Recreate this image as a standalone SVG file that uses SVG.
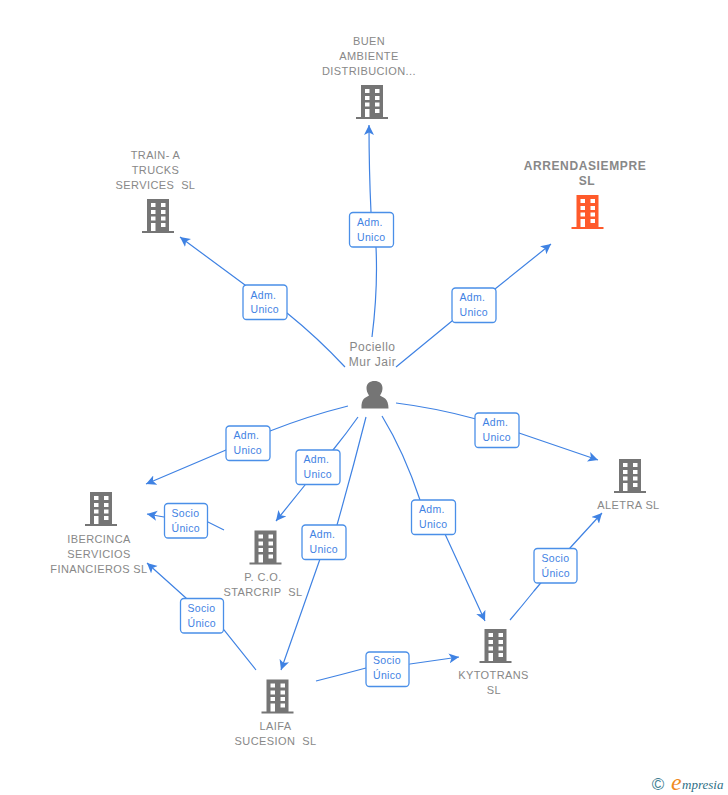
<svg xmlns="http://www.w3.org/2000/svg" width="728" height="795" viewBox="0 0 728 795">
<style>
text{font-family:"Liberation Sans",Arial,sans-serif}
.n{font-size:11px;fill:#888;text-anchor:middle;letter-spacing:.4px;white-space:pre}
.b{font-weight:bold;font-size:12px;letter-spacing:.62px}
.p{font-size:12px;letter-spacing:.5px}
.c{fill:none;stroke:#3f82e3;stroke-width:1.2;marker-end:url(#a)}
.l rect{fill:#fff;stroke:#4a8fe8;stroke-width:1.3}
.l text{font-size:10.5px;fill:#3f82e3;letter-spacing:.3px}
.g{fill:#757575}.o{fill:#ff5a2b}
</style>
<defs>
<marker id="a" markerUnits="userSpaceOnUse" markerWidth="14" markerHeight="12" refX="10" refY="5" orient="auto"><path d="M0,0 L10,5 L0,10 L2.5,5Z" fill="#3f82e3"/></marker>
<path id="i" fill-rule="evenodd" d="M5,0H27V32H32V34H0V32H5ZM9,4V8H13.500V4ZM19,4V8H23.500V4ZM9,11V15H13.500V11ZM19,11V15H23.500V11ZM9,17.500V21.500H13.500V17.500ZM19,17.500V21.500H23.500V17.500ZM9,24V32H13.500V24ZM19,24V28H23.500V24Z"/>
</defs>
<g id="connectors">
<path class="c" d="M372,337Q378,290 376,247L371,212Q369,170 369,125"/>
<path class="c" d="M345,367Q318,338 287,313L245,285L180,237"/>
<path class="c" d="M396,367L452,321L495,289L551,244"/>
<path class="c" d="M348,406Q308,416 270,431L226,450L146,484"/>
<path class="c" d="M358,417Q346,434 333,450L305,485L276,521"/>
<path class="c" d="M366,417Q352,472 337,525L320,559L281,670"/>
<path class="c" d="M382,416Q404,452 420,500L445,534L485,621"/>
<path class="c" d="M396,403Q436,408 476,419L519,433L598,460"/>
<path class="c" d="M224,530L208,522L164,517L147,514"/>
<path class="c" d="M256,670Q240,650 224,630L186,598L147,563"/>
<path class="c" d="M316,681Q340,675 366,668L410,664L459,657"/>
<path class="c" d="M510,620Q522,606 534,591L570,548L602,513"/>
</g>
<g id="edge-labels" class="l">
<g><rect x="349.500" y="212.500" width="44" height="34.500" rx="3.500"/><text x="357" y="226">Adm.</text><text x="357" y="241">Unico</text></g>
<g><rect x="243" y="285" width="44" height="34.500" rx="3.500"/><text x="250.500" y="299">Adm.</text><text x="250.500" y="313">Unico</text></g>
<g><rect x="452" y="288" width="44" height="34.500" rx="3.500"/><text x="459.500" y="301">Adm.</text><text x="459.500" y="316">Unico</text></g>
<g><rect x="226" y="426" width="44" height="34.500" rx="3.500"/><text x="233.500" y="439">Adm.</text><text x="233.500" y="454">Unico</text></g>
<g><rect x="296" y="450" width="44" height="34.500" rx="3.500"/><text x="303.500" y="463">Adm.</text><text x="303.500" y="478">Unico</text></g>
<g><rect x="302" y="525" width="44" height="34.500" rx="3.500"/><text x="309.500" y="538">Adm.</text><text x="309.500" y="553">Unico</text></g>
<g><rect x="411.500" y="500" width="44" height="34.500" rx="3.500"/><text x="419" y="513">Adm.</text><text x="419" y="528">Unico</text></g>
<g><rect x="475" y="413" width="44" height="34.500" rx="3.500"/><text x="482.500" y="426">Adm.</text><text x="482.500" y="441">Unico</text></g>
<g><rect x="164.500" y="503.500" width="43" height="34.500" rx="3.500"/><text x="171.500" y="517">Socio</text><text x="171.500" y="532">Único</text></g>
<g><rect x="180.500" y="598.500" width="43" height="34.500" rx="3.500"/><text x="187.500" y="612">Socio</text><text x="187.500" y="627">Único</text></g>
<g><rect x="366" y="652" width="43" height="34.500" rx="3.500"/><text x="373" y="664">Socio</text><text x="373" y="679">Único</text></g>
<g><rect x="534" y="548.500" width="43" height="34.500" rx="3.500"/><text x="541.500" y="562">Socio</text><text x="541.500" y="577">Único</text></g>
</g>
<g id="buen"><text class="n" x="369" y="45">BUEN</text><text class="n" x="369" y="60">AMBIENTE</text><text class="n" x="369" y="75">DISTRIBUCION...</text><use href="#i" class="g" x="356" y="85"/></g>
<g id="train"><text class="n" x="155.500" y="159">TRAIN- A</text><text class="n" x="155.500" y="174">TRUCKS</text><text class="n" x="155.500" y="189">SERVICES  SL</text><use href="#i" class="g" x="142" y="199"/></g>
<g id="arrendasiempre"><text class="n b" x="585" y="170">ARRENDASIEMPRE</text><text class="n b" x="587" y="185">SL</text><use href="#i" class="o" x="571.500" y="195"/></g>
<g id="pociello"><text class="n p" x="372.500" y="351">Pociello</text><text class="n p" x="372.500" y="366">Mur Jair</text>
<path class="g" d="M361.500,408.500C361,398 366,397.500 369,395.500C367,392.500 366.500,390 366.500,388C366.500,383.500 370,381 374.500,381C379,381 382.500,383.500 382.500,388C382.500,390 382,392.500 380,395.500C383,397.500 388.500,398 388.500,408.500Z"/></g>
<g id="aletra"><text class="n" x="628.500" y="509">ALETRA SL</text><use href="#i" class="g" x="614" y="459"/></g>
<g id="ibercinca"><text class="n" x="99" y="543">IBERCINCA</text><text class="n" x="99" y="558">SERVICIOS</text><text class="n" x="99" y="573">FINANCIEROS SL</text><use href="#i" class="g" x="85" y="492"/></g>
<g id="pco"><text class="n" x="263" y="581">P. C.O.</text><text class="n" x="263" y="596">STARCRIP  SL</text><use href="#i" class="g" x="249.500" y="530.500"/></g>
<g id="kytotrans"><text class="n" x="493.500" y="679">KYTOTRANS</text><text class="n" x="494" y="694">SL</text><use href="#i" class="g" x="479.500" y="629"/></g>
<g id="laifa"><text class="n" x="275.500" y="730">LAIFA</text><text class="n" x="275.500" y="745">SUCESION  SL</text><use href="#i" class="g" x="261.500" y="679.500"/></g>
<g id="watermark"><text x="658" y="790" font-size="17" fill="#3f7f93" text-anchor="middle">©</text><text x="671" y="790" font-size="24" font-style="italic" fill="#f08a1d" style="font-family:'Liberation Serif',serif">e</text><text x="682" y="789" font-size="13" font-style="italic" fill="#2f6f86" style="font-family:'Liberation Serif',serif">mpresia</text></g>
</svg>
